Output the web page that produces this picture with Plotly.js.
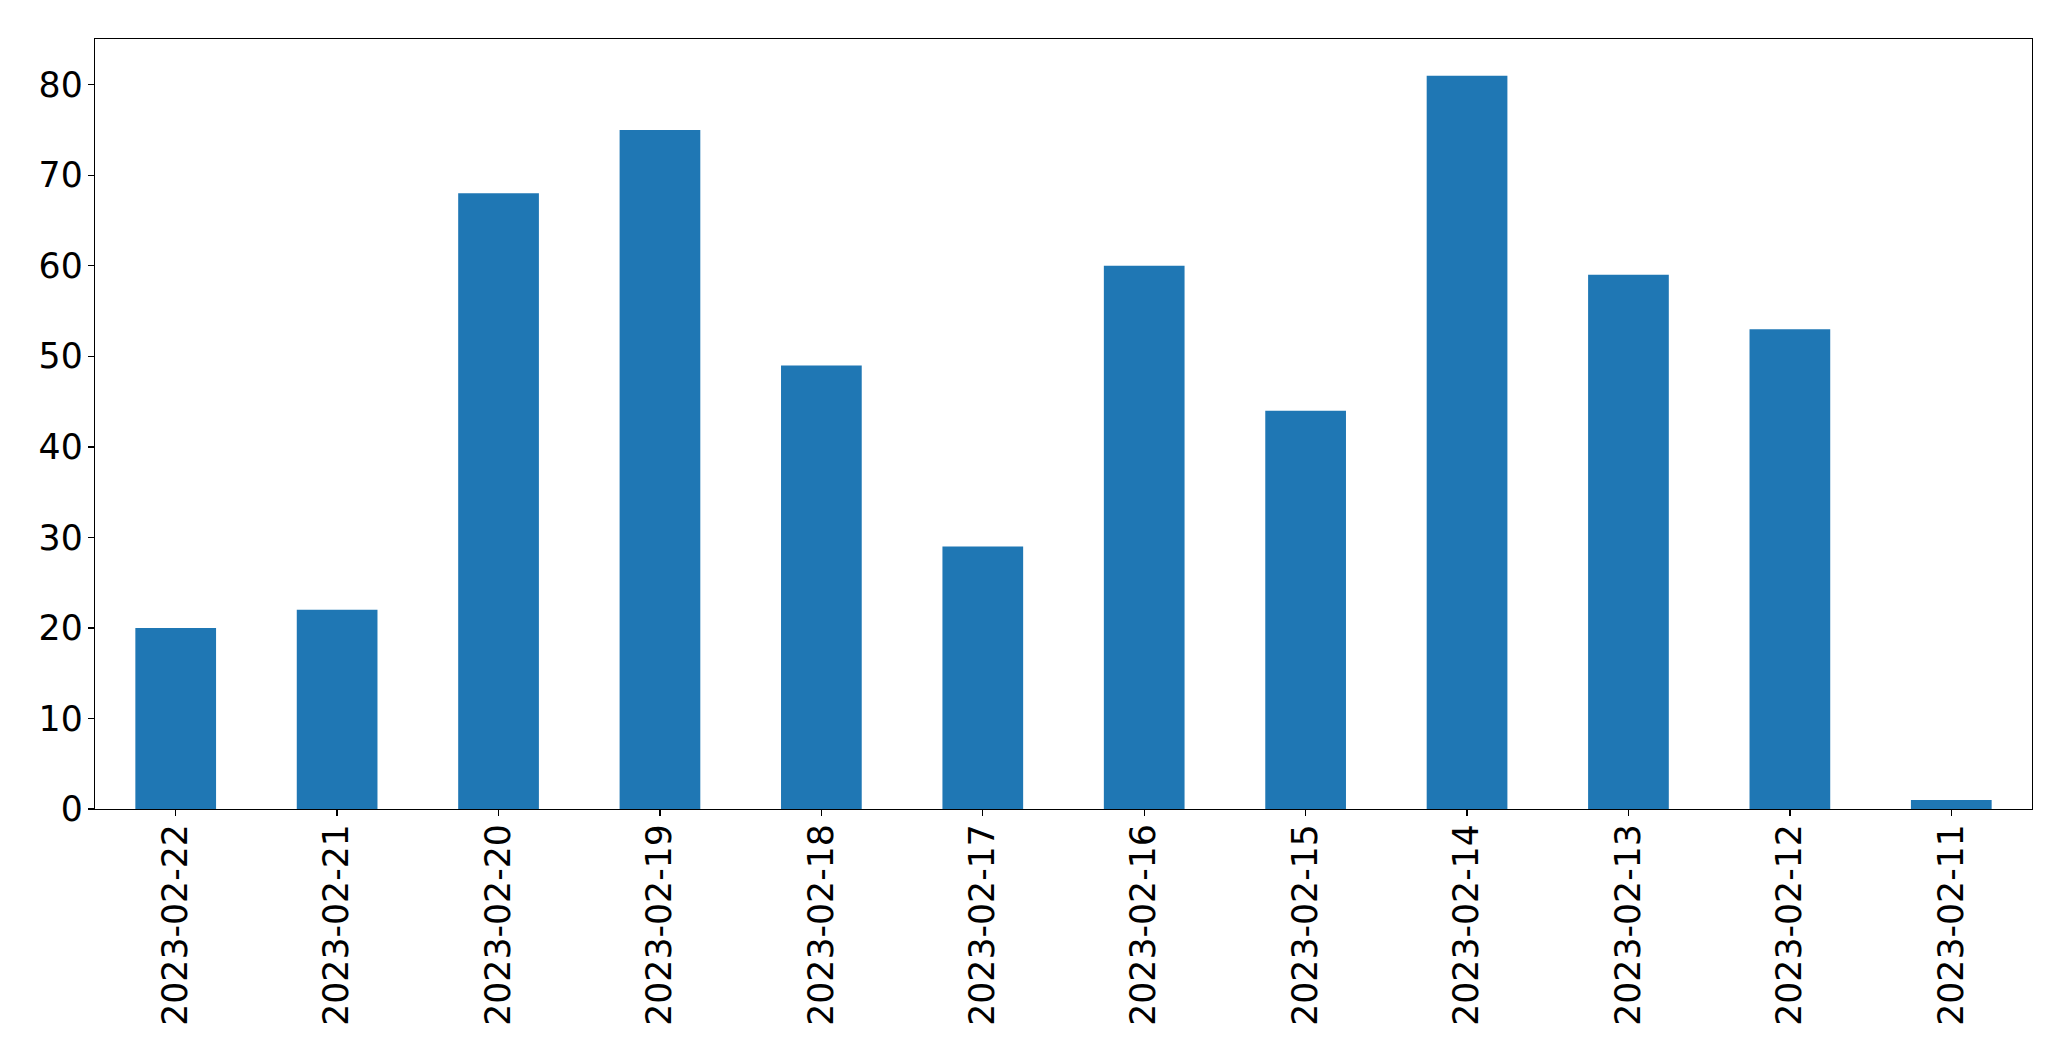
<!DOCTYPE html>
<html>
<head>
<meta charset="utf-8">
<script src="https://cdn.plot.ly/plotly-3.0.1.min.js"></script>
<style>
html, body { margin: 0; padding: 0; background: #ffffff; }
#chart { width: 2071px; height: 1061px; }
</style>
</head>
<body>
<div id="chart"></div>
<script>
const categories = ["2023-02-22", "2023-02-21", "2023-02-20", "2023-02-19", "2023-02-18", "2023-02-17",
                    "2023-02-16", "2023-02-15", "2023-02-14", "2023-02-13", "2023-02-12", "2023-02-11"];
const counts = [20, 22, 68, 75, 49, 29, 60, 44, 81, 59, 53, 1];
const yTickValues = [0, 10, 20, 30, 40, 50, 60, 70, 80];

const trace = {
  type: "bar",
  x: categories,
  y: counts,
  width: 0.5,
  marker: { color: "#1f77b4", line: { width: 0 } },
  hoverinfo: "x+y"
};

const fontFamily = "DejaVu Sans, sans-serif";

const layout = {
  width: 2071,
  height: 1061,
  margin: { l: 94.5, r: 39.3, t: 39.3, b: 252, pad: 0 },
  paper_bgcolor: "#ffffff",
  plot_bgcolor: "#ffffff",
  showlegend: false,
  font: { family: fontFamily, size: 34.7, color: "#000000" },
  xaxis: {
    type: "category",
    range: [-0.5, categories.length - 0.5],
    tickangle: -90,
    ticks: "outside",
    ticklen: 6,
    tickwidth: 1.3,
    tickcolor: "#000000",
    ticklabelstandoff: -6,
    showline: true,
    linecolor: "#000000",
    linewidth: 1.3,
    mirror: true,
    showgrid: false,
    zeroline: false,
    tickfont: { family: fontFamily, size: 34.7, color: "#000000" }
  },
  yaxis: {
    range: [0, 85.05],
    tickmode: "array",
    tickvals: yTickValues,
    ticktext: yTickValues.map(String),
    ticks: "outside",
    ticklen: 6,
    tickwidth: 1.3,
    tickcolor: "#000000",
    ticklabelstandoff: -2,
    showline: true,
    linecolor: "#000000",
    linewidth: 1.3,
    mirror: true,
    showgrid: false,
    zeroline: false,
    tickfont: { family: fontFamily, size: 34.7, color: "#000000" }
  },
  bargap: 0.5
};

Plotly.newPlot("chart", [trace], layout, { staticPlot: true, displayModeBar: false });
</script>
</body>
</html>
